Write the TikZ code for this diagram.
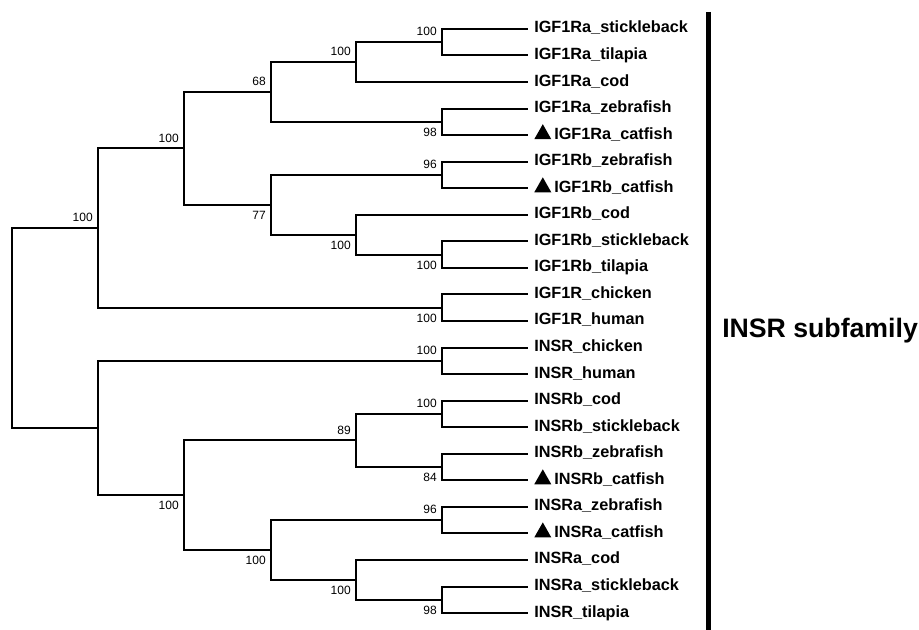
\documentclass[tikz,border=0pt]{standalone}
\usepackage{fontspec}
\setmainfont{Liberation Sans}
\usetikzlibrary{positioning}

% small black marker in front of the catfish names
\newcommand{\cattri}{\tikz[baseline]\fill (0pt,0pt) -- (12.75pt,0pt) -- (6.4pt,11.25pt) -- cycle;\hspace{2.25pt}}

\begin{document}
\begin{tikzpicture}[
  x=0.75pt, y=-0.75pt,
  br/.style={line width=1.5pt},
  leaf/.style={
    anchor=west,
    inner xsep=4.5pt,
    inner ysep=0pt,
    text height=9pt,
    text depth=3pt,
    font=\bfseries\fontsize{12.2}{14}\selectfont
  },
  boot/.style={
    inner sep=0pt,
    node distance=4.5pt and 3.75pt,
    font=\fontsize{9}{10}\selectfont
  }
]
\useasboundingbox (0,0) rectangle (919,630);

% leaves
\node[leaf] (ras)  at (528,29.0)  {IGF1Ra\_stickleback};
\node[leaf] (rat)  at (528,55.5)  {IGF1Ra\_tilapia};
\node[leaf] (rac)  at (528,82.1)  {IGF1Ra\_cod};
\node[leaf] (raz)  at (528,108.6) {IGF1Ra\_zebrafish};
\node[leaf] (racf) at (528,135.2) {\cattri IGF1Ra\_catfish};
\node[leaf] (rbz)  at (528,161.7) {IGF1Rb\_zebrafish};
\node[leaf] (rbcf) at (528,188.3) {\cattri IGF1Rb\_catfish};
\node[leaf] (rbc)  at (528,214.8) {IGF1Rb\_cod};
\node[leaf] (rbs)  at (528,241.4) {IGF1Rb\_stickleback};
\node[leaf] (rbt)  at (528,267.9) {IGF1Rb\_tilapia};
\node[leaf] (gch)  at (528,294.5) {IGF1R\_chicken};
\node[leaf] (ghu)  at (528,321.0) {IGF1R\_human};
\node[leaf] (ich)  at (528,347.5) {INSR\_chicken};
\node[leaf] (ihu)  at (528,374.1) {INSR\_human};
\node[leaf] (ibc)  at (528,400.6) {INSRb\_cod};
\node[leaf] (ibs)  at (528,427.2) {INSRb\_stickleback};
\node[leaf] (ibz)  at (528,453.7) {INSRb\_zebrafish};
\node[leaf] (ibcf) at (528,480.3) {\cattri INSRb\_catfish};
\node[leaf] (iaz)  at (528,506.8) {INSRa\_zebrafish};
\node[leaf] (iacf) at (528,533.4) {\cattri INSRa\_catfish};
\node[leaf] (iac)  at (528,559.9) {INSRa\_cod};
\node[leaf] (ias)  at (528,586.5) {INSRa\_stickleback};
\node[leaf] (iat)  at (528,613.0) {INSR\_tilapia};

% inner nodes of the tree
\coordinate (k1)  at (442,42.3);
\coordinate (k2)  at (356,62.2);
\coordinate (k3)  at (442,121.9);
\coordinate (k4)  at (271,92.0);
\coordinate (k5)  at (442,175.0);
\coordinate (k6)  at (442,254.7);
\coordinate (k7)  at (356,234.7);
\coordinate (k8)  at (271,204.9);
\coordinate (k9)  at (184,148.4);
\coordinate (k10) at (442,307.7);
\coordinate (k11) at (98,228.1);
\coordinate (k12) at (442,360.8);
\coordinate (k13) at (442,413.9);
\coordinate (k14) at (442,467.0);
\coordinate (k15) at (356,440.4);
\coordinate (k16) at (442,520.1);
\coordinate (k17) at (442,599.7);
\coordinate (k18) at (356,579.8);
\coordinate (k19) at (271,550.0);
\coordinate (k20) at (184,495.2);
\coordinate (k21) at (98,428.0);
\coordinate (root) at (12,328.0);

% branches
\draw[br] (k1) |- (ras.west);
\draw[br] (k1) |- (rat.west);
\draw[br] (k2) |- (k1);
\draw[br] (k2) |- (rac.west);
\draw[br] (k3) |- (raz.west);
\draw[br] (k3) |- (racf.west);
\draw[br] (k4) |- (k2);
\draw[br] (k4) |- (k3);
\draw[br] (k5) |- (rbz.west);
\draw[br] (k5) |- (rbcf.west);
\draw[br] (k6) |- (rbs.west);
\draw[br] (k6) |- (rbt.west);
\draw[br] (k7) |- (rbc.west);
\draw[br] (k7) |- (k6);
\draw[br] (k8) |- (k5);
\draw[br] (k8) |- (k7);
\draw[br] (k9) |- (k4);
\draw[br] (k9) |- (k8);
\draw[br] (k10) |- (gch.west);
\draw[br] (k10) |- (ghu.west);
\draw[br] (k11) |- (k9);
\draw[br] (k11) |- (k10);
\draw[br] (k12) |- (ich.west);
\draw[br] (k12) |- (ihu.west);
\draw[br] (k13) |- (ibc.west);
\draw[br] (k13) |- (ibs.west);
\draw[br] (k14) |- (ibz.west);
\draw[br] (k14) |- (ibcf.west);
\draw[br] (k15) |- (k13);
\draw[br] (k15) |- (k14);
\draw[br] (k16) |- (iaz.west);
\draw[br] (k16) |- (iacf.west);
\draw[br] (k17) |- (ias.west);
\draw[br] (k17) |- (iat.west);
\draw[br] (k18) |- (iac.west);
\draw[br] (k18) |- (k17);
\draw[br] (k19) |- (k16);
\draw[br] (k19) |- (k18);
\draw[br] (k20) |- (k15);
\draw[br] (k20) |- (k19);
\draw[br] (k21) |- (k12);
\draw[br] (k21) |- (k20);
\draw[br] (root) |- (k11);
\draw[br] (root) |- (k21);

% bootstrap values
\node[boot, above left=of k1]  {100};
\node[boot, above left=of k2]  {100};
\node[boot, below left=of k3]  {98};
\node[boot, above left=of k4]  {68};
\node[boot, above left=of k5]  {96};
\node[boot, below left=of k6]  {100};
\node[boot, below left=of k7]  {100};
\node[boot, below left=of k8]  {77};
\node[boot, above left=of k9]  {100};
\node[boot, below left=of k10] {100};
\node[boot, above left=of k11] {100};
\node[boot, above left=of k12] {100};
\node[boot, above left=of k13] {100};
\node[boot, below left=of k14] {84};
\node[boot, above left=of k15] {89};
\node[boot, above left=of k16] {96};
\node[boot, below left=of k17] {98};
\node[boot, below left=of k18] {100};
\node[boot, below left=of k19] {100};
\node[boot, below left=of k20] {100};

% subfamily bracket
\draw[line width=3.4pt] (708.5,12) -- (708.5,630);
\node[anchor=base west, inner sep=0pt, font=\bfseries\fontsize{20}{24}\selectfont] (sub) at (722,337) {INSR subfamily};
\end{tikzpicture}
\end{document}
